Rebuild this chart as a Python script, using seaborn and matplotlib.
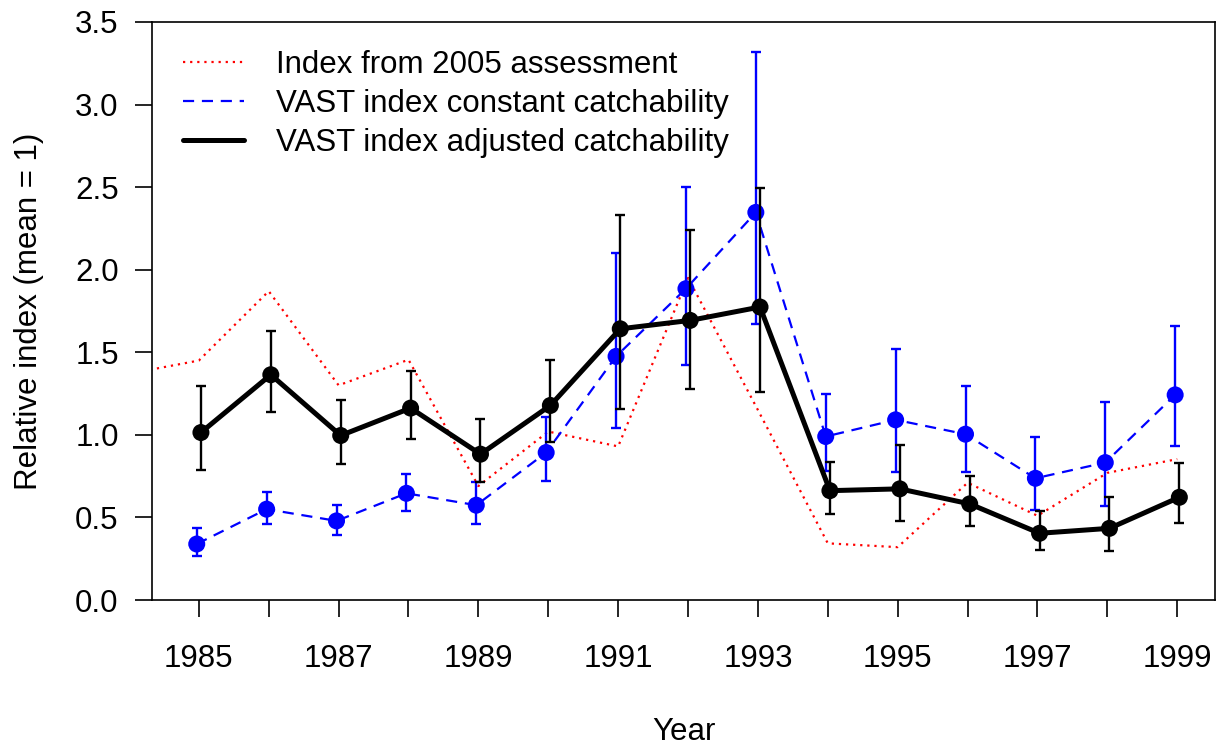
import matplotlib
matplotlib.use("Agg")
import matplotlib.pyplot as plt
import seaborn as sns
import pandas as pd
import numpy as np

# values
years = np.arange(1985, 2000)
red_years = np.arange(1984, 2000)
red_index = [1.37, 1.45, 1.87, 1.30, 1.455, 0.69, 1.02, 0.93, 1.95, 1.15,
             0.343, 0.32, 0.71, 0.51, 0.77, 0.853]

blue_mean = [0.339, 0.55, 0.479, 0.646, 0.574, 0.893, 1.475, 1.885, 2.347,
             0.99, 1.091, 1.004, 0.737, 0.832, 1.242]
blue_lo = [0.267, 0.461, 0.394, 0.539, 0.461, 0.723, 1.044, 1.424, 1.671,
           0.784, 0.778, 0.778, 0.545, 0.572, 0.933]
blue_hi = [0.438, 0.653, 0.574, 0.764, 0.713, 1.107, 2.101, 2.499, 3.317,
           1.248, 1.519, 1.293, 0.99, 1.196, 1.661]

black_mean = [1.014, 1.364, 0.996, 1.162, 0.883, 1.178, 1.642, 1.693, 1.774,
              0.662, 0.673, 0.582, 0.404, 0.434, 0.622]
black_lo = [0.788, 1.141, 0.824, 0.974, 0.713, 0.954, 1.156, 1.279, 1.257,
            0.523, 0.481, 0.448, 0.303, 0.299, 0.469]
black_hi = [1.297, 1.626, 1.208, 1.384, 1.097, 1.455, 2.333, 2.242, 2.495,
            0.833, 0.939, 0.752, 0.541, 0.622, 0.828]

labels = ["Index from 2005 assessment",
          "VAST index constant catchability",
          "VAST index adjusted catchability"]

sns.set_style("ticks")
plt.rcParams["font.family"] = ["Liberation Sans", "DejaVu Sans"]
plt.rcParams["text.color"] = "black"
plt.rcParams["axes.labelcolor"] = "black"
plt.rcParams["xtick.color"] = "black"
plt.rcParams["ytick.color"] = "black"

FS = 22.5

red = pd.DataFrame({"year": red_years, "index": red_index})
blue = pd.DataFrame({"year": years - 0.03, "index": blue_mean,
                     "lo": blue_lo, "hi": blue_hi})
black = pd.DataFrame({"year": years + 0.03, "index": black_mean,
                      "lo": black_lo, "hi": black_hi})

fig = plt.figure(figsize=(12.2, 7.5), dpi=100)
ax = fig.add_axes([0.1246, 0.2, 0.8713, 0.7707])

sns.lineplot(data=red, x="year", y="index", ax=ax, color="red",
             lw=1.6, linestyle=(0, (1, 2.2)), label=labels[0])

# blue series
ax.errorbar(blue["year"], blue["index"],
            yerr=[blue["index"] - blue["lo"], blue["hi"] - blue["index"]],
            fmt="none", ecolor="blue", elinewidth=1.7, capsize=3.5, capthick=1.7)
sns.lineplot(data=blue, x="year", y="index", ax=ax, color="blue",
             lw=1.6, linestyle=(0, (5, 3.5)), label=labels[1])
sns.scatterplot(data=blue, x="year", y="index", ax=ax, color="blue",
                s=150, edgecolor="none", zorder=4)

# black series
ax.errorbar(black["year"], black["index"],
            yerr=[black["index"] - black["lo"], black["hi"] - black["index"]],
            fmt="none", ecolor="black", elinewidth=1.7, capsize=3.5, capthick=1.7,
            zorder=5)
sns.lineplot(data=black, x="year", y="index", ax=ax, color="black",
             lw=3.6, label=labels[2], zorder=6)
sns.scatterplot(data=black, x="year", y="index", ax=ax, color="black",
                s=150, edgecolor="none", zorder=7)

ax.set_xlim(1984.33, 1999.54)
ax.set_ylim(0, 3.5)
ax.set_xticks(years)
ax.set_xticklabels([str(y) if y % 2 == 1 else "" for y in years])
ax.set_yticks(np.arange(0, 3.51, 0.5))
ax.set_yticklabels([f"{v:.1f}" for v in np.arange(0, 3.51, 0.5)])
ax.tick_params(axis="both", labelsize=FS, length=12, width=1.2, color="black")
ax.tick_params(axis="x", pad=20)
ax.tick_params(axis="y", pad=12)
for s in ax.spines.values():
    s.set_linewidth(1.2)
    s.set_color("black")

ax.set_xlabel("Year", fontsize=FS, labelpad=31)
ax.set_ylabel("Relative index (mean = 1)", fontsize=FS, labelpad=22)

ax.legend(loc="upper left", frameon=False, fontsize=FS, handlelength=1.95,
          handletextpad=1.0, labelspacing=0.285, borderpad=0.4,
          bbox_to_anchor=(0.003, 1.0))

fig.savefig("out.png", dpi=100)
